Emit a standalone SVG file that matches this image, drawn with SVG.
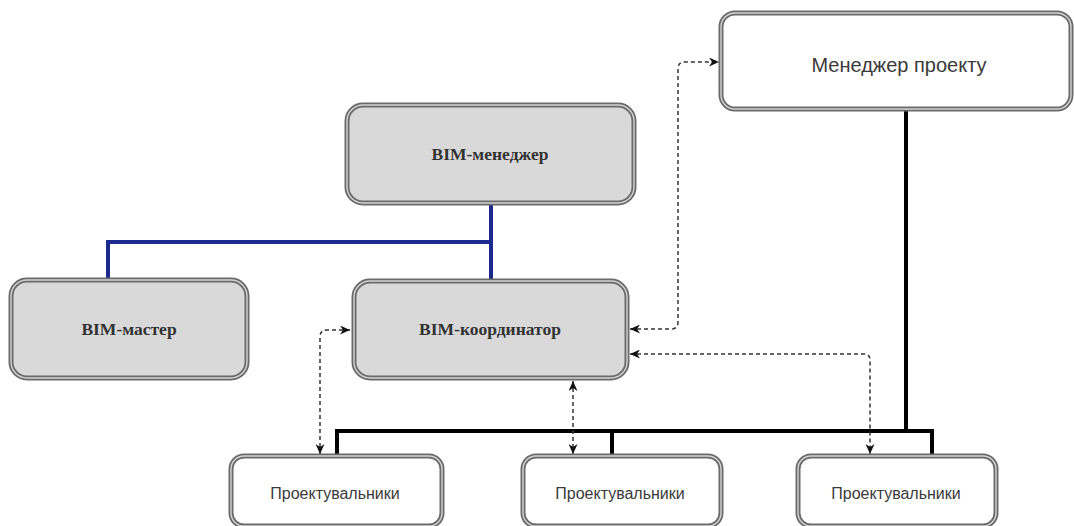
<svg xmlns="http://www.w3.org/2000/svg" width="1074" height="526" viewBox="0 0 1074 526">
<style>
.bo{stroke:#6a6a6a;stroke-width:5}
.bi{fill:none;stroke:#d4d4d4;stroke-width:1.4}
.gray{fill:#d9d9d9}
.white{fill:#ffffff}
.ts{font-family:"Liberation Serif",serif;font-weight:bold;font-size:17.5px;fill:#333;text-anchor:middle}
.tn{font-family:"Liberation Sans",Arial,sans-serif;fill:#3a3a3a;text-anchor:middle}
.dash{fill:none;stroke:#333;stroke-width:1.5;stroke-dasharray:4 3;marker-start:url(#ah);marker-end:url(#ah)}
.blk{fill:none;stroke:#000;stroke-width:4}
.blu{fill:none;stroke:#1b2a8c;stroke-width:4}
</style>
<defs>
<marker id="ah" markerUnits="userSpaceOnUse" markerWidth="11" markerHeight="9" refX="10" refY="4.5" orient="auto-start-reverse" viewBox="0 0 11 9">
<path d="M0,0 L10,4.5 L0,9 L3,4.5 z" fill="#111"/>
</marker>
</defs>
<rect width="1074" height="526" fill="#fff"/>
<g id="connectors">
<path class="blu" d="M491,203 L491,280 M108,279 L108,242 L491,242"/>
<path class="blk" d="M906,110 L906,431 M337,455 L337,431 L932,431 L932,455 M612,431 L612,455"/>
<path class="dash" d="M350,330 L327,330 Q320,330 320,337 L320,454"/>
<path class="dash" d="M573,381 L573,454"/>
<path class="dash" d="M630,329 L671,329 Q678,329 678,322 L678,69 Q678,62 685,62 L719,62"/>
<path class="dash" d="M630,354 L864,354 Q870,354 870,360 L870,454"/>
</g>
<g id="bim-manager">
<rect class="bo gray" x="347" y="105" width="287" height="98" rx="16"/>
<rect class="bi" x="347" y="105" width="287" height="98" rx="16"/>
<text class="ts" x="490" y="160">BIM-менеджер</text>
</g>
<g id="bim-master">
<rect class="bo gray" x="11" y="280" width="236" height="98" rx="16"/>
<rect class="bi" x="11" y="280" width="236" height="98" rx="16"/>
<text class="ts" x="129" y="335">BIM-мастер</text>
</g>
<g id="bim-coordinator">
<rect class="bo gray" x="354" y="281" width="273" height="97" rx="16"/>
<rect class="bi" x="354" y="281" width="273" height="97" rx="16"/>
<text class="ts" x="490" y="335">BIM-координатор</text>
</g>
<g id="project-manager">
<rect class="bo white" x="721" y="13" width="350" height="96" rx="14"/>
<rect class="bi" x="721" y="13" width="350" height="96" rx="14"/>
<text class="tn" x="899" y="72" font-size="20">Менеджер проекту</text>
</g>
<g id="designers-1">
<rect class="bo white" x="231" y="456" width="211" height="70" rx="13"/>
<rect class="bi" x="231" y="456" width="211" height="70" rx="13"/>
<text class="tn" x="335" y="499" font-size="16">Проектувальники</text>
</g>
<g id="designers-2">
<rect class="bo white" x="523" y="456" width="198" height="70" rx="13"/>
<rect class="bi" x="523" y="456" width="198" height="70" rx="13"/>
<text class="tn" x="620" y="499" font-size="16">Проектувальники</text>
</g>
<g id="designers-3">
<rect class="bo white" x="798" y="456" width="198" height="70" rx="13"/>
<rect class="bi" x="798" y="456" width="198" height="70" rx="13"/>
<text class="tn" x="896" y="499" font-size="16">Проектувальники</text>
</g>
</svg>
